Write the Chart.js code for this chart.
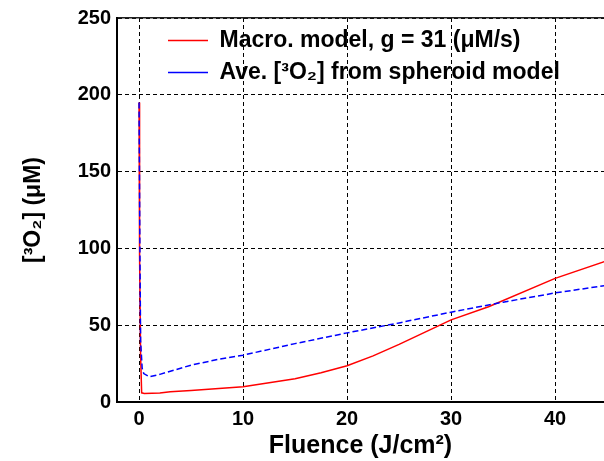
<!DOCTYPE html>
<html>
<head>
<meta charset="utf-8">
<script src="https://cdn.jsdelivr.net/npm/chart.js@4.4.1/dist/chart.umd.min.js"></script>
<style>
html, body { margin: 0; padding: 0; background: #fff; overflow: hidden; }
</style>
</head>
<body>
<canvas id="myChart" width="604" height="461"></canvas>
<script>
// ========== data
const macroX = [0, 0.05, 0.15, 0.25, 0.5, 2, 3, 5, 7, 10, 12.5, 15, 17.5, 20, 22.5, 25, 27.5, 30, 33.6, 40, 45];
const macroY = [195, 95, 30, 6, 5.6, 5.8, 6.7, 7.5, 8.4, 10, 12.5, 15.2, 19, 23.6, 30, 37.5, 45.5, 53.5, 62, 80.5, 92];

const spheroidX = [0, 0.08, 0.15, 0.3, 0.45, 1, 2, 5, 7.8, 10, 15, 20, 25, 30, 35, 40, 45];
const spheroidY = [195, 100, 40, 22, 18.5, 16.4, 18, 24, 28, 30.5, 38, 45, 51.5, 58.5, 65, 71, 76];

const xTicks = [0, 10, 20, 30, 40];
const yTicks = [0, 50, 100, 150, 200, 250];

const labels = ['Macro. model, g = 31 (\u03bcM/s)', 'Ave. [\u00b3O\u2082] from spheroid model'];

function toPoints(xs, ys) {
	return xs.map((x, i) => ({ x: x, y: ys[i] }));
}

Chart.defaults.font.family = "'Liberation Sans', Arial, sans-serif";
Chart.defaults.color = '#000';

// move the legend to where matlab put it
const legendShift = {
	id: 'legendShift',
	afterLayout(chart) {
		let lg = chart.legend;
		lg.left += 42;
		lg.right += 42;
		lg.top += 20;
		lg.bottom += 20;
	}
};

const ctx1 = document.getElementById('myChart').getContext('2d');
let myChart = new Chart(ctx1, {
	type: 'line',
	data: {
		datasets: [{
			label: labels[0],
			data: toPoints(macroX, macroY),
			borderColor: '#ff0000',
			borderWidth: 1.5,
			pointRadius: 0,
			order: 1
		}, {
			label: labels[1],
			data: toPoints(spheroidX, spheroidY),
			borderColor: '#0000ff',
			borderWidth: 1.5,
			borderDash: [6, 3],
			pointRadius: 0,
			order: 0
		}]
	},
	options: {
		responsive: false,
		animation: false,
		layout: { padding: { top: 17, right: 0, left: 0, bottom: 0 } },
		plugins: {
			tooltip: { enabled: false },
			legend: {
				position: 'chartArea',
				align: 'start',
				labels: {
					usePointStyle: true,
					pointStyle: 'line',
					pointStyleWidth: 40,
					padding: 9,
					color: '#000',
					font: { size: 23, weight: 'bold' },
					sort: (a, b) => a.datasetIndex - b.datasetIndex
				}
			}
		},
		scales: {
			x: {
				type: 'linear',
				position: 'bottom',
				min: -2.12,
				max: 44.7,
				afterBuildTicks: s => { s.ticks = xTicks.map(v => ({ value: v })); },
				afterFit: s => { s.height = 59; },
				ticks: { font: { size: 20, weight: 'bold' }, padding: 5 },
				grid: { color: '#000', lineWidth: 1, drawTicks: false },
				border: { color: '#000', width: 2, dash: [4, 3] },
				title: {
					display: true,
					text: 'Fluence (J/cm\u00b2)',
					font: { size: 25, weight: 'bold' },
					padding: { top: 0, bottom: 0 }
				}
			},
			xTop: {
				type: 'linear',
				position: 'top',
				min: -2.12,
				max: 44.7,
				ticks: { display: false },
				grid: { drawOnChartArea: false, drawTicks: false },
				border: { color: '#222', width: 1.5 },
				afterFit: s => { s.height = 0; }
			},
			y: {
				type: 'linear',
				min: 0,
				max: 250,
				afterBuildTicks: s => { s.ticks = yTicks.map(v => ({ value: v })); },
				afterFit: s => { s.width = 117; },
				ticks: { font: { size: 20, weight: 'bold' }, padding: 6 },
				grid: { color: '#000', lineWidth: 1, drawTicks: false },
				border: { color: '#000', width: 2, dash: [4, 3] },
				title: {
					display: true,
					text: '[\u00b3O\u2082] (\u03bcM)',
					font: { size: 23, weight: 'bold' },
					padding: { top: 20, bottom: 0 }
				}
			}
		}
	},
	plugins: [legendShift]
});
</script>
</body>
</html>
